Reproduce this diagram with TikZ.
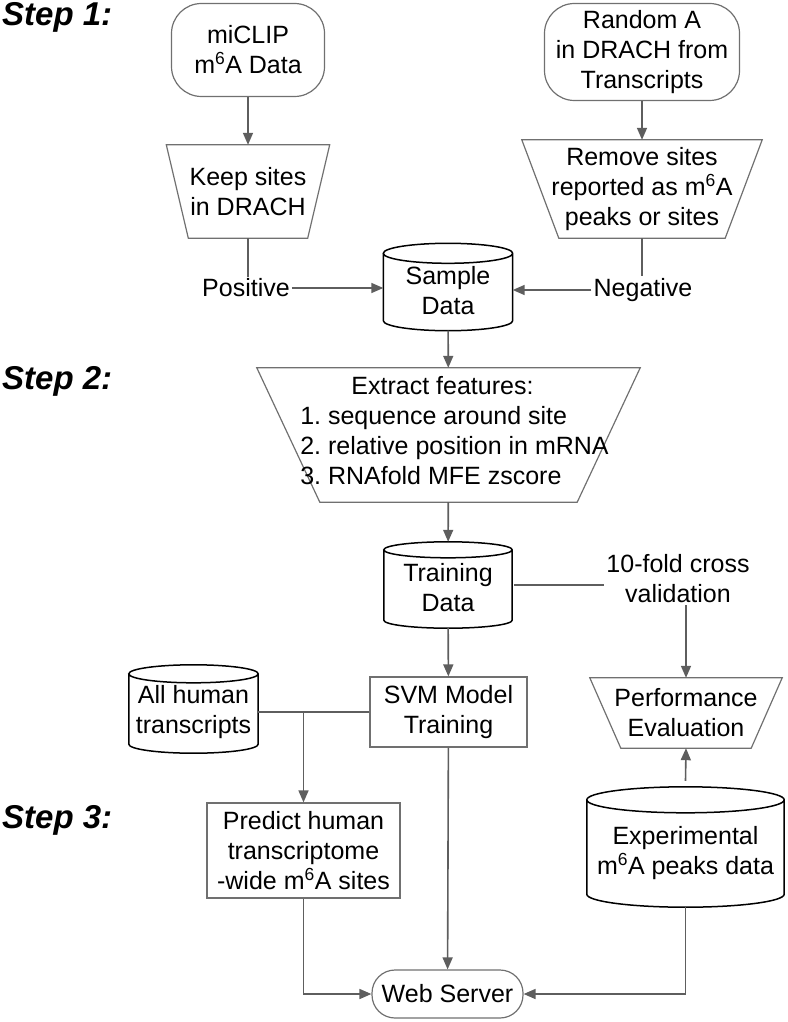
\documentclass[tikz,border=0pt]{standalone}
\usepackage{fontspec}
\setmainfont{Liberation Sans}
\usepackage{tikz}
\usetikzlibrary{calc,arrows.meta}
\frenchspacing
\definecolor{edgegray}{HTML}{707070}
\definecolor{arrowgray}{HTML}{5E5E5E}
% outline of a funnel (upside-down trapezium) round a node
\newcommand{\funnel}[2]{
    \draw[shapeline] (#1.north west) -- (#1.north east) -- ([xshift=-#2pt]#1.south east) -- ([xshift=#2pt]#1.south west) -- cycle;
}
% outline of a data drum (cylinder) round a node
\newcommand{\drum}[2]{
    \draw[drumline] let \p1=(#1.north west), \p2=(#1.south east), \n1={(\x2-\x1)/2} in
        (\x1,\y1-#2pt) -- (\x1,\y2+#2pt)
        arc[start angle=180,end angle=360,x radius=\n1,y radius=#2pt]
        -- (\x2,\y1-#2pt)
        arc[start angle=0,end angle=180,x radius=\n1,y radius=#2pt]
        arc[start angle=180,end angle=360,x radius=\n1,y radius=#2pt];
}

\begin{document}
\begin{tikzpicture}[x=1pt,y=-1pt,every node/.style={font=\fontsize{25}{30}\selectfont,align=center,inner sep=0pt}]

\tikzstyle{shapeline}=[draw=edgegray,line width=1.2pt]
\tikzstyle{drumline}=[draw=black,line width=1.5pt]
\tikzstyle{terminal}=[shapeline,rounded corners=30pt]
\tikzstyle{process}=[shapeline]
\tikzstyle{plain}=[inner sep=2pt]
\tikzstyle{arrow}=[draw=arrowgray,line width=1.6pt,-{Triangle[length=12pt,width=10pt]}]
\tikzstyle{link}=[draw=arrowgray,line width=1.6pt]
\tikzstyle{steplabel}=[font=\fontsize{33}{38}\selectfont\bfseries\itshape,anchor=west]

\useasboundingbox (0,0) rectangle (787,1022);

\node (step1) at (2,17) [steplabel] {Step 1:};
\node (step2) at (2,381) [steplabel] {Step 2:};
\node (step3) at (2,820) [steplabel] {Step 3:};

% step 1
\node (miclip) at (248,50) [terminal,minimum width=153pt,minimum height=93pt] {miCLIP\\m\textsuperscript{6}A Data};
\node (random) at (642,52) [terminal,minimum width=195pt,minimum height=97pt] {Random A\\in DRACH from\\Transcripts};
\node (keep) at (248,191.5) [minimum width=163pt,minimum height=93pt] {Keep sites\\in DRACH};
\funnel{keep}{22}
\node (remove) at (642,189) [minimum width=240pt,minimum height=98pt] {Remove sites\\reported as m\textsuperscript{6}A\\peaks or sites};
\funnel{remove}{37}
\node (positive) at (246,288) [plain] {Positive};
\node (negative) at (643,290) [plain] {Negative};
\node (sample) at (448,287) [minimum width=129pt,minimum height=87pt] {};
\drum{sample}{10}
\node at (sample) [yshift=-4pt] {Sample\\Data};

% step 2
\node (extract) at (448.5,435) [minimum width=383pt,minimum height=134pt] {};
\funnel{extract}{63}
\node at (extract) [xshift=6pt,yshift=2pt] {\begin{tabular}{@{}l@{}}\multicolumn{1}{@{}c@{\hspace{24pt}}}{Extract features:}\\1. sequence around site\\2. relative position in mRNA\\3. RNAfold MFE zscore\end{tabular}};
\node (training) at (448,585) [minimum width=128pt,minimum height=86pt] {};
\drum{training}{8}
\node at (training) [yshift=-3pt] {Training\\Data};
\node (tenfold) at (678,579) [plain] {10-fold cross\\validation};
\node (svm) at (448.5,712) [process,minimum width=157pt,minimum height=70pt] {SVM Model\\Training};
\node (perf) at (686,713) [minimum width=192pt,minimum height=70pt] {Performance\\Evaluation};
\funnel{perf}{31}

% step 3
\node (humans) at (193.5,709) [minimum width=129pt,minimum height=88pt] {};
\drum{humans}{9}
\node at (humans) [yshift=-3pt] {All human\\transcripts};
\node (predict) at (303.5,850.5) [process,minimum width=193pt,minimum height=95pt] {Predict human\\transcriptome\\-wide m\textsuperscript{6}A sites};
\node (expt) at (685.5,847) [minimum width=197pt,minimum height=120pt] {};
\drum{expt}{13}
\node at (expt) [yshift=-6pt] {Experimental\\m\textsuperscript{6}A peaks data};
\node (web) at (447.5,994) [terminal,rounded corners=23pt,minimum width=151pt,minimum height=48pt] {Web Server};

% arrows
\draw[arrow] (miclip) -- (keep);
\draw[arrow] (random) -- (remove);
\draw[link] (keep.south) -- (keep.south |- positive.north);
\draw[link] (remove.south) -- (remove.south |- negative.north);
\draw[arrow] (positive.east) -- (positive.east -| sample.west);
\draw[arrow] (negative.west) -- (negative.west -| sample.east);
\draw[arrow] (sample) -- (extract);
\draw[arrow] (extract) -- (training);
\draw[link] (training.east) ++(2,0) -- (training.east -| tenfold.west);
\draw[arrow] (tenfold.south -| perf.north) -- (perf.north);
\draw[arrow] (training) -- (svm);
\draw[link] (svm.west) -- (svm.west -| humans.east);
\coordinate (fork) at (predict.north |- svm.west);
\draw[arrow] (fork) -- (predict.north);
\draw[arrow] (expt.north) ++(0,-6) -- (perf.south);
\draw[arrow] (svm) -- (web);
\draw[arrow] (predict.south) |- (web.west);
\draw[arrow] (expt.south) |- (web.east);
\end{tikzpicture}
\end{document}
